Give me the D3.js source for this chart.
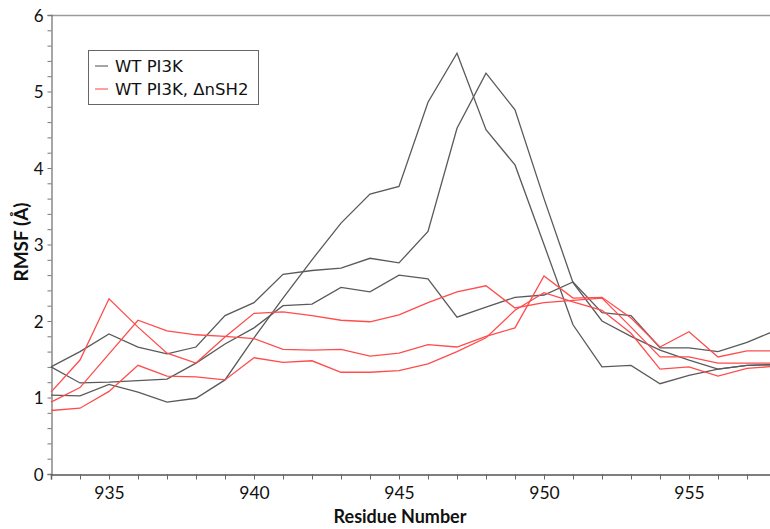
<!DOCTYPE html>
<html>
<head>
<meta charset="utf-8">
<script src="https://cdn.jsdelivr.net/npm/d3@7"></script>
<style>
  body { margin: 0; background: #fff; }
  svg { display: block; }
</style>
</head>
<body>
<svg id="chart" width="770" height="529"></svg>
<script>
// residue numbers on the x axis
const residues = [933, 934, 935, 936, 937, 938, 939, 940, 941, 942, 943, 944, 945,
  946, 947, 948, 949, 950, 951, 952, 953, 954, 955, 956, 957, 958];

// WT PI3K replicas (grey)
const wt_a = [1.03, 1.02, 1.17, 1.07, 0.94, 0.99, 1.23, 1.78, 2.30, 2.80, 3.28, 3.66, 3.76,
  4.86, 5.50, 4.50, 4.04, 3.00, 1.95, 1.40, 1.42, 1.18, 1.29, 1.37, 1.42, 1.43];
const wt_b = [1.40, 1.60, 1.83, 1.66, 1.57, 1.66, 2.07, 2.24, 2.61, 2.66, 2.69, 2.82, 2.76,
  3.17, 4.52, 5.24, 4.76, 3.60, 2.50, 2.00, 1.80, 1.62, 1.49, 1.37, 1.42, 1.43];
const wt_c = [1.40, 1.19, 1.20, 1.22, 1.24, 1.45, 1.70, 1.91, 2.20, 2.22, 2.44, 2.38, 2.60,
  2.55, 2.05, 2.18, 2.31, 2.34, 2.51, 2.11, 2.07, 1.65, 1.65, 1.60, 1.72, 1.88];

// WT PI3K, dnSH2 replicas (red)
const dn_a = [1.07, 1.49, 2.29, 1.92, 1.58, 1.45, 1.79, 2.10, 2.12, 2.07, 2.01, 1.99, 2.08,
  2.24, 2.38, 2.46, 2.17, 2.24, 2.27, 2.30, 1.92, 1.53, 1.53, 1.45, 1.45, 1.45];
const dn_b = [0.94, 1.13, 1.57, 2.01, 1.87, 1.82, 1.80, 1.77, 1.63, 1.62, 1.63, 1.54, 1.58,
  1.69, 1.66, 1.80, 1.91, 2.59, 2.30, 2.31, 2.04, 1.66, 1.86, 1.53, 1.61, 1.61];
const dn_c = [0.83, 0.86, 1.08, 1.42, 1.28, 1.27, 1.23, 1.52, 1.46, 1.48, 1.33, 1.33, 1.35,
  1.44, 1.60, 1.78, 2.14, 2.37, 2.25, 2.14, 1.84, 1.37, 1.40, 1.28, 1.38, 1.41];

const x_tick_labels = [935, 940, 945, 950, 955];
const y_tick_labels = [0, 1, 2, 3, 4, 5, 6];
const legend_labels = ['WT PI3K', 'WT PI3K, \u0394nSH2'];

const grey = '#5a5a5a';
const red = '#ff4c4c';

const series_list = [
  [wt_a, grey], [wt_b, grey], [wt_c, grey],
  [dn_a, red], [dn_b, red], [dn_c, red]
];

const svg = d3.select('#chart');
const x = d3.scaleLinear().domain([933, 958]).range([51, 776]);
const y = d3.scaleLinear().domain([0, 6]).range([474, 15]);

// top frame line
svg.append('line')
  .attr('x1', 51).attr('x2', 770).attr('y1', 15.5).attr('y2', 15.5)
  .attr('stroke', '#9a9a9a').attr('stroke-width', 1.5);

// y axis, minor ticks every 0.2
const y_minor = d3.range(0, 6.001, 0.2).map(v => +v.toFixed(1));
const y_axis = svg.append('g')
  .attr('transform', 'translate(51.5,0)')
  .call(d3.axisLeft(y).tickValues(y_minor).tickSize(4).tickPadding(4)
    .tickFormat(v => y_tick_labels.includes(v) ? v : ''));
y_axis.select('.domain').attr('stroke', '#777').attr('stroke-width', 1.3);
y_axis.selectAll('.tick line').attr('stroke', '#777');
y_axis.selectAll('text')
  .attr('font-family', 'Lato').attr('font-size', 17).attr('fill', '#111')
  .attr('dy', '0.36em');

// x axis, minor tick at every residue
const x_axis = svg.append('g')
  .attr('transform', 'translate(0,474.5)')
  .call(d3.axisBottom(x).tickValues(residues).tickSize(5).tickPadding(7)
    .tickFormat(v => x_tick_labels.includes(v) ? v : ''));
x_axis.select('.domain').attr('stroke', '#555').attr('stroke-width', 1.5);
x_axis.selectAll('.tick line').attr('stroke', '#666');
x_axis.selectAll('text')
  .attr('font-family', 'Lato').attr('font-size', 17.5).attr('fill', '#111');

// lines
const line = d3.line()
  .x((d, i) => x(residues[i]))
  .y(d => y(d));

series_list.forEach(function(s) {
  svg.append('path')
    .datum(s[0])
    .attr('d', line)
    .attr('fill', 'none')
    .attr('stroke', s[1])
    .attr('stroke-width', 1.3)
    .attr('stroke-linejoin', 'miter');
});

// axis titles
svg.append('text')
  .attr('x', 400).attr('y', 523)
  .attr('text-anchor', 'middle')
  .attr('font-family', 'Lato').attr('font-weight', 'bold').attr('font-size', 18)
  .attr('fill', '#111')
  .text('Residue Number');

svg.append('text')
  .attr('transform', 'translate(28,242) rotate(-90)')
  .attr('text-anchor', 'middle')
  .attr('font-family', 'Lato').attr('font-weight', 'bold').attr('font-size', 19)
  .attr('fill', '#111')
  .text('RMSF (\u00c5)');

// legend
const legend = svg.append('g');
legend.append('rect')
  .attr('x', 88.5).attr('y', 50.5).attr('width', 170).attr('height', 54)
  .attr('fill', '#fff').attr('stroke', '#666').attr('stroke-width', 1);
const legend_colors = ['#888', '#ff8080'];
legend_labels.forEach(function(label, i) {
  let ly = 66 + i * 23;
  legend.append('line')
    .attr('x1', 95).attr('x2', 108).attr('y1', ly).attr('y2', ly)
    .attr('stroke', legend_colors[i]).attr('stroke-width', 1.5);
  legend.append('text')
    .attr('x', 115).attr('y', ly + 6)
    .attr('font-family', 'DejaVu Sans').attr('font-size', 16.5)
    .attr('fill', '#111')
    .text(label);
});
</script>
</body>
</html>
